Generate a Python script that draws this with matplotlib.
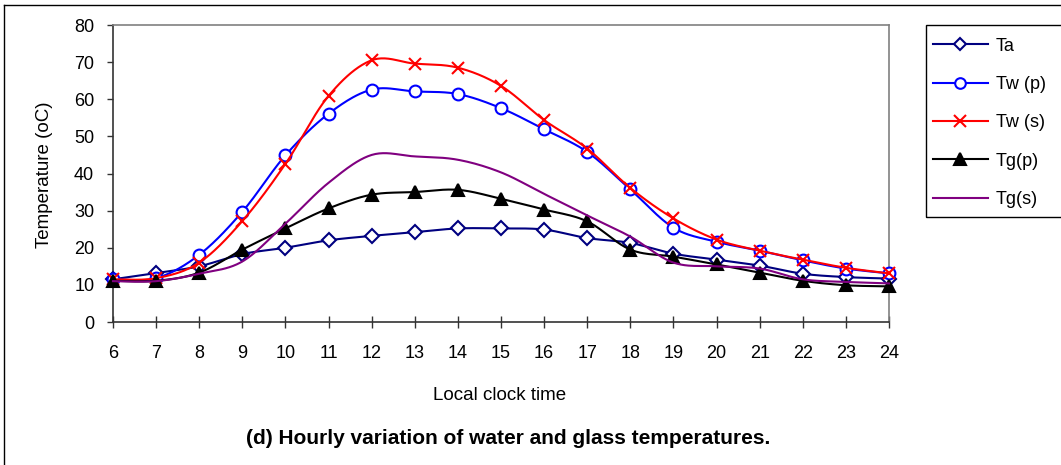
import numpy as np
import matplotlib
matplotlib.use("Agg")
import matplotlib.pyplot as plt
from matplotlib.lines import Line2D
from matplotlib.patches import Rectangle

plt.rcParams['font.family'] = ['Liberation Sans', 'DejaVu Sans']

hours = [6, 7, 8, 9, 10, 11, 12, 13, 14, 15, 16, 17, 18, 19, 20, 21, 22, 23, 24]
ta = [11.5, 13.2, 15.0, 18.3, 20.0, 22.0, 23.2, 24.2, 25.2, 25.2, 24.9, 22.6, 21.3, 18.4, 16.8, 15.2, 13.0, 12.1, 11.7]
tw_p = [11.5, 11.8, 18.1, 29.7, 44.9, 56.1, 62.6, 62.1, 61.4, 57.6, 51.9, 45.8, 35.7, 25.4, 21.6, 19.2, 16.6, 14.4, 13.1]
tw_s = [11.5, 11.8, 16.0, 27.2, 42.6, 60.9, 70.5, 69.6, 68.5, 63.6, 54.4, 46.7, 36.1, 27.9, 22.2, 19.2, 16.8, 14.6, 13.1]
tg_p = [11.1, 11.1, 13.3, 19.5, 25.2, 30.6, 34.3, 35.0, 35.6, 33.2, 30.3, 27.1, 19.5, 17.6, 15.5, 13.3, 11.1, 9.9, 9.6]
tg_s = [11.0, 11.0, 13.0, 16.3, 26.5, 37.5, 45.0, 44.6, 43.7, 40.3, 34.5, 28.7, 23.0, 16.0, 15.0, 14.4, 11.5, 10.8, 10.4]

series_names = ["Ta", "Tw (p)", "Tw (s)", "Tg(p)", "Tg(s)"]
series_vals = [ta, tw_p, tw_s, tg_p, tg_s]
colors = ["#000080", "#0000FF", "#FF0000", "#000000", "#800080"]
markers = ["D", "o", "x", "^", None]
msizes = [7, 8.5, 9, 9, 0]
mfaces = ["white", "white", "#FF0000", "#000000", "none"]


def smooth(x, y, n=24):
    P = np.column_stack([np.asarray(x, float), np.asarray(y, float)])
    out = [P[0]]
    N = len(P)
    t = np.linspace(0, 1, n)[1:, None]
    for i in range(N - 1):
        p0 = P[i - 1] if i > 0 else P[i]
        p1 = P[i]
        p2 = P[i + 1]
        p3 = P[i + 2] if i + 2 < N else P[i + 1]
        c1 = p1 + (p2 - p0) / 6.0
        c2 = p2 - (p3 - p1) / 6.0
        seg = ((1 - t) ** 3) * p1 + 3 * ((1 - t) ** 2) * t * c1 + 3 * (1 - t) * t ** 2 * c2 + t ** 3 * p2
        out.extend(seg)
    out = np.array(out)
    return out[:, 0], out[:, 1]


W, H = 1061, 465
fig = plt.figure(figsize=(W / 100, H / 100), dpi=100)
fig.patch.set_facecolor("white")

FS = 13

L, R, T, B = 113, 889, 25, 322
ax = fig.add_axes([L / W, 1 - B / H, (R - L) / W, (B - T) / H])

handles = []
for k, (name, vals, c, m, ms, mf) in enumerate(zip(series_names, series_vals, colors, markers, msizes, mfaces)):
    sx, sy = smooth(hours, vals)
    ax.plot(sx, sy, color=c, lw=1.5, zorder=3 + 2 * k, clip_on=False)
    if m is not None:
        ax.plot(hours, vals, linestyle="none", marker=m, ms=ms, mfc=mf, mec=c,
                mew=1.5, zorder=4 + 2 * k, clip_on=False)
    handles.append(Line2D([], [], color=c, lw=1.5, marker=m if m else None,
                          ms=ms * 0.9, mfc=mf, mec=c, mew=1.5))

ax.set_xlim(6, 24)
ax.set_ylim(0, 80)
ax.set_xticks(hours)
ax.set_xticklabels([str(h) for h in hours])
ax.set_yticks(np.arange(0, 81, 10))

for s in ["left", "bottom"]:
    ax.spines[s].set_color("#333333")
    ax.spines[s].set_linewidth(1.2)
for s in ["top", "right"]:
    ax.spines[s].set_color("#808080")
    ax.spines[s].set_linewidth(1.2)

ax.tick_params(axis="y", direction="out", length=4.5, width=1, color="#333333",
               labelsize=FS, pad=9)
ax.tick_params(axis="x", direction="inout", length=8, width=1, color="#333333",
               labelsize=FS, pad=12.5)

fig.text(45 / W, 1 - 175 / H, "Temperature (oC)", rotation=90, ha="center", va="center", fontsize=13.5)
fig.text(500 / W, 1 - 395 / H, "Local clock time", ha="center", va="center", fontsize=13.5)
fig.text(508 / W, 1 - 438 / H, "(d) Hourly variation of water and glass temperatures.",
         ha="center", va="center", fontsize=15, fontweight="bold")

# outer frame
fig.add_artist(Line2D([4 / W, 4 / W], [0, 1 - 5 / H], color="#000000", lw=1, transform=fig.transFigure))
fig.add_artist(Line2D([4 / W, 1], [1 - 5 / H, 1 - 5 / H], color="#000000", lw=1, transform=fig.transFigure))

# legend box
fig.add_artist(Rectangle((926 / W, 1 - 217 / H), (1070 - 926) / W, (217 - 25) / H,
                         transform=fig.transFigure, fill=False, edgecolor="#000000", lw=1))
fig.legend(handles, series_names, loc="upper left", bbox_to_anchor=(921 / W, 1 - 26 / H),
           frameon=False, fontsize=FS, handlelength=3.05, handletextpad=0.45,
           labelspacing=1.18, borderpad=0.65, borderaxespad=0)

fig.savefig("out.png", dpi=100)
